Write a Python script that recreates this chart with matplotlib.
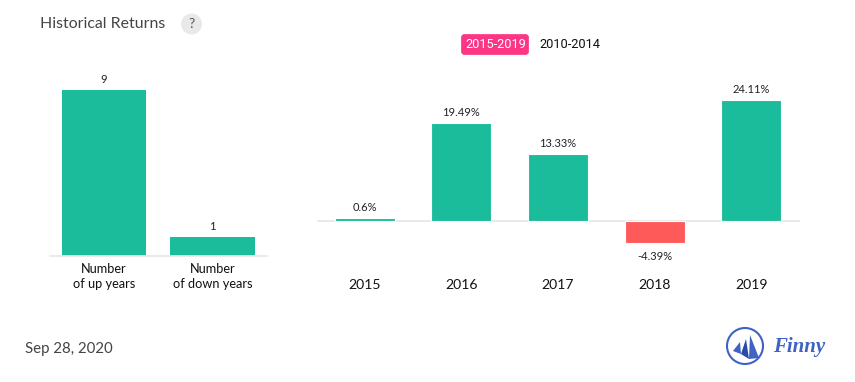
import matplotlib
matplotlib.use("Agg")
import matplotlib.pyplot as plt
from matplotlib.patches import Circle, FancyBboxPatch, Polygon

# data
count_labels = ["Number\nof up years", "Number\nof down years"]
count_values = [9, 1]
years = ["2015", "2016", "2017", "2018", "2019"]
returns = [0.6, 19.49, 13.33, -4.39, 24.11]
return_labels = ["0.6%", "19.49%", "13.33%", "-4.39%", "24.11%"]

GREEN = "#1abc9c"
RED = "#ff5a5a"
GRID = "#e8e8e8"
TEXT = "#222222"
W, H = 855, 382

plt.rcParams["font.family"] = ["Lato", "DejaVu Sans"]


def px_axes(fig, left, top, right, bottom):
    # axes placed with picture pixel coordinates
    return fig.add_axes([left / W, 1 - bottom / H, (right - left) / W, (bottom - top) / H])


def bar_colors(values):
    return [GREEN if v >= 0 else RED for v in values]


fig = plt.figure(figsize=(W / 100, H / 100), dpi=100)

# left chart
ax1 = px_axes(fig, 50, 70, 266.5, 255.5)
ax1.bar(range(2), count_values, width=0.78, color=bar_colors(count_values))
ax1.set_xlim(-0.5, 1.5)
ax1.set_ylim(0, 185.5 / 165.5 * 9)
for i, v in enumerate(count_values):
    ax1.annotate(str(v), (i, v), xytext=(0, 3.6), textcoords="offset points",
                 ha="center", va="bottom", fontsize=8, color=TEXT)
ax1.set_xticks(range(2), count_labels, fontsize=9.2, color="#111111", linespacing=1.3)
ax1.tick_params(axis="x", length=0, pad=5.2)
ax1.set_yticks([])
for s in ["top", "left", "right"]:
    ax1.spines[s].set_visible(False)
ax1.spines["bottom"].set_color(GRID)
ax1.spines["bottom"].set_linewidth(1.3)

# right chart
ax2 = px_axes(fig, 317, 70, 800, 270)
ax2.axhline(0, color=GRID, lw=1.3, zorder=1)
ax2.bar(range(5), returns, width=0.62, color=bar_colors(returns),
        edgecolor="white", linewidth=0.8, zorder=2)
ax2.set_xlim(-0.495, 4.505)
ax2.set_ylim(-49 / 5.02, 151 / 5.02)
for i, (v, lab) in enumerate(zip(returns, return_labels)):
    if v >= 0:
        ax2.annotate(lab, (i, v), xytext=(0, 3.4), textcoords="offset points",
                     ha="center", va="bottom", fontsize=8, color=TEXT)
    else:
        ax2.annotate(lab, (i, v), xytext=(0, -5.7), textcoords="offset points",
                     ha="center", va="top", fontsize=8, color=TEXT)
ax2.set_xticks(range(5), years, fontsize=10.1, color="#111111")
ax2.tick_params(axis="x", length=0, pad=6.7)
ax2.set_yticks([])
for s in ax2.spines.values():
    s.set_visible(False)

# overlay in pixel coordinates for title, toggle, date and logo
ov = fig.add_axes([0, 0, 1, 1], zorder=5)
ov.set_xlim(0, W)
ov.set_ylim(H, 0)
ov.axis("off")
ov.patch.set_alpha(0)

ov.text(40, 23.5, "Historical Returns", fontsize=11.4, color="#444444", va="center")
ov.add_patch(Circle((191.5, 24), 10.5, color="#e9e9e9", lw=0))
ov.text(191.5, 24, "?", fontsize=10, color="#555555", ha="center", va="center")

ov.add_patch(FancyBboxPatch((461.5, 34.5), 67, 20, boxstyle="round,pad=0,rounding_size=3",
                            fc="#fc3585", ec="#fc3585", lw=0.5))
ov.text(496, 44.5, "2015-2019", fontsize=9.2, family="Roboto", color="white",
        ha="center", va="center")
ov.text(570, 44.5, "2010-2014", fontsize=9.2, family="Roboto", color="#111111",
        ha="center", va="center")

ov.text(25, 348.5, "Sep 28, 2020", fontsize=10.8, color="#444444", va="center")

BLUE = "#3f62c4"
ov.add_patch(Circle((745, 346), 18, fc="none", ec=BLUE, lw=1.5))
ov.add_patch(Polygon([[733, 351], [740, 342], [741, 354]], fc=BLUE, lw=0))
ov.add_patch(Polygon([[741, 354], [746, 339], [749, 359]], fc="#2a4aa8", lw=0))
ov.add_patch(Polygon([[749, 359], [750, 335], [759, 358]], fc=BLUE, lw=0))
ov.text(773, 347, "Finny", fontsize=15, family="Liberation Serif", style="italic",
        weight="bold", color=BLUE, va="center")

fig.savefig("out.png", dpi=100)
